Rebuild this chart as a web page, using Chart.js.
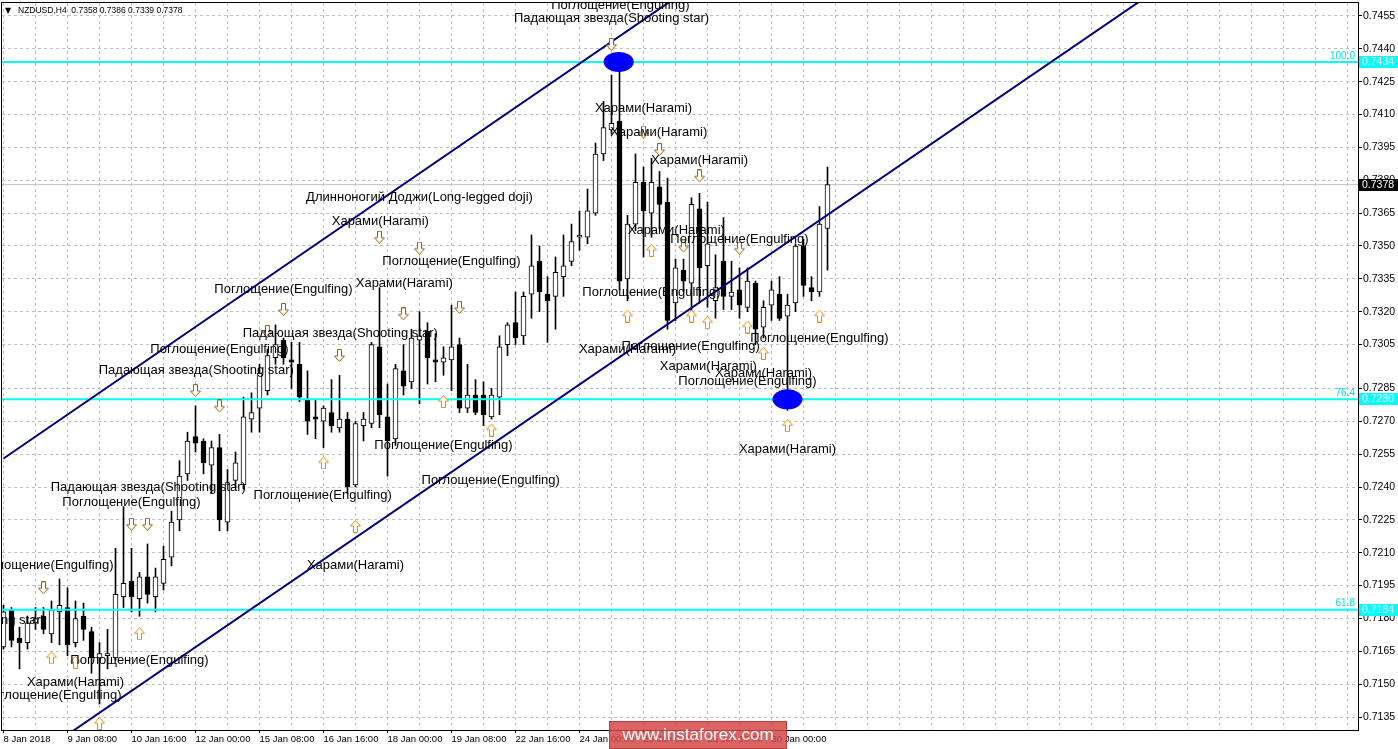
<!DOCTYPE html>
<html>
<head>
<meta charset="utf-8">
<title>NZDUSD H4</title>
<script src="https://cdn.jsdelivr.net/npm/chart.js@4.4.1/dist/chart.umd.min.js"></script>
<style>
    html, body { margin: 0; padding: 0; background: #ffffff; }
    #wrap { width: 1398px; height: 749px; }
</style>
</head>
<body>
<div id="wrap"><canvas id="nzdChart" width="1398" height="749"></canvas></div>
<script>
// NZDUSD H4 candles, bar 0 = 8 Jan 2018 00:00
const opens = [
    0.7167, 0.7184, 0.7171, 0.7169, 0.7178, 0.7181, 0.7173, 0.7183, 0.7185, 0.7169,
    0.7181, 0.7174, 0.7162, 0.7163, 0.7162, 0.7190, 0.7197, 0.7189, 0.7199, 0.7190,
    0.7196, 0.7208, 0.7225, 0.7246, 0.7263, 0.7261, 0.7250, 0.7258, 0.7224, 0.7243,
    0.7241, 0.7271, 0.7276, 0.7284, 0.7299, 0.7307, 0.7298, 0.7296, 0.7280, 0.7272,
    0.7270, 0.7274, 0.7267, 0.7271, 0.7241, 0.7268, 0.7269, 0.7304, 0.7272, 0.7262,
    0.7293, 0.7288, 0.7307, 0.7311, 0.7298, 0.7297, 0.7298, 0.7305, 0.7276, 0.7282,
    0.7282, 0.7272, 0.7281, 0.7305, 0.7315, 0.7309, 0.7328, 0.7343, 0.7328, 0.7327,
    0.7336, 0.7343, 0.7354, 0.7354, 0.7365, 0.7392, 0.7403, 0.7407, 0.7335, 0.7360,
    0.7379, 0.7365, 0.7377, 0.7370, 0.7324, 0.7339, 0.7333, 0.7367, 0.7341, 0.7325,
    0.7343, 0.7327, 0.7330, 0.7322, 0.7333, 0.7313, 0.7323, 0.7328, 0.7318, 0.7324,
    0.7350, 0.7331, 0.7329, 0.7358
];
const highs = [
    0.7186, 0.7185, 0.7176, 0.7181, 0.7185, 0.7185, 0.7188, 0.7198, 0.7194, 0.7188,
    0.7187, 0.7176, 0.7169, 0.7175, 0.7212, 0.7231, 0.7212, 0.7201, 0.7214, 0.7203,
    0.7213, 0.7229, 0.7252, 0.7265, 0.7277, 0.7262, 0.7261, 0.7264, 0.7248, 0.7256,
    0.7281, 0.7283, 0.7296, 0.7303, 0.7314, 0.7308, 0.7306, 0.7306, 0.7293, 0.7280,
    0.7277, 0.7289, 0.7291, 0.7274, 0.7270, 0.7274, 0.7306, 0.7331, 0.7287, 0.7296,
    0.7305, 0.7312, 0.7320, 0.7315, 0.7310, 0.7304, 0.7323, 0.7308, 0.7296, 0.7289,
    0.7288, 0.7285, 0.7309, 0.7315, 0.7329, 0.7329, 0.7355, 0.7350, 0.7336, 0.7345,
    0.7355, 0.7360, 0.7366, 0.7376, 0.7397, 0.7416, 0.7428, 0.7437, 0.7364, 0.7392,
    0.7386, 0.7390, 0.7384, 0.7381, 0.7344, 0.7344, 0.7372, 0.7374, 0.7370, 0.7346,
    0.7363, 0.7343, 0.7340, 0.7340, 0.7334, 0.7325, 0.7334, 0.7336, 0.7328, 0.7351,
    0.7353, 0.7336, 0.7368, 0.7386
];
const lows = [
    0.7166, 0.7167, 0.7157, 0.7166, 0.7175, 0.7173, 0.7169, 0.7168, 0.7163, 0.7167,
    0.7170, 0.7155, 0.7141, 0.7157, 0.7161, 0.7185, 0.7183, 0.7181, 0.7187, 0.7183,
    0.7193, 0.7204, 0.7220, 0.7243, 0.7256, 0.7246, 0.7237, 0.7220, 0.7220, 0.7240,
    0.7239, 0.7265, 0.7265, 0.7282, 0.7296, 0.7296, 0.7285, 0.7279, 0.7264, 0.7262,
    0.7258, 0.7265, 0.7265, 0.7237, 0.7240, 0.7261, 0.7267, 0.7267, 0.7245, 0.7259,
    0.7282, 0.7285, 0.7278, 0.7287, 0.7288, 0.7291, 0.7284, 0.7274, 0.7274, 0.7273,
    0.7268, 0.7271, 0.7273, 0.7300, 0.7305, 0.7305, 0.7317, 0.7320, 0.7306, 0.7312,
    0.7327, 0.7341, 0.7348, 0.7351, 0.7364, 0.7389, 0.7401, 0.7330, 0.7325, 0.7357,
    0.7345, 0.7354, 0.7358, 0.7312, 0.7316, 0.7329, 0.7320, 0.7324, 0.7322, 0.7317,
    0.7321, 0.7321, 0.7317, 0.7320, 0.7305, 0.7308, 0.7316, 0.7316, 0.7275, 0.7320,
    0.7327, 0.7325, 0.7327, 0.7339
];
const closes = [
    0.7183, 0.7170, 0.7169, 0.7178, 0.7180, 0.7175, 0.7184, 0.7186, 0.7168, 0.7180,
    0.7175, 0.7162, 0.7164, 0.7164, 0.7191, 0.7196, 0.7190, 0.7199, 0.7191, 0.7199,
    0.7207, 0.7224, 0.7245, 0.7261, 0.7260, 0.7251, 0.7258, 0.7225, 0.7242, 0.7251,
    0.7272, 0.7274, 0.7292, 0.7300, 0.7305, 0.7299, 0.7297, 0.7281, 0.7270, 0.7271,
    0.7276, 0.7268, 0.7271, 0.7240, 0.7269, 0.7271, 0.7305, 0.7273, 0.7261, 0.7294,
    0.7286, 0.7308, 0.7309, 0.7299, 0.7297, 0.7299, 0.7304, 0.7276, 0.7282, 0.7274,
    0.7273, 0.7282, 0.7304, 0.7314, 0.7308, 0.7327, 0.7341, 0.7329, 0.7325, 0.7338,
    0.7341, 0.7352, 0.7355, 0.7366, 0.7392, 0.7404, 0.7406, 0.7334, 0.7360, 0.7379,
    0.7366, 0.7379, 0.7369, 0.7316, 0.7340, 0.7334, 0.7369, 0.7340, 0.7351, 0.7331,
    0.7327, 0.7329, 0.7323, 0.7334, 0.7312, 0.7322, 0.7330, 0.7317, 0.7323, 0.7350,
    0.7332, 0.7329, 0.7360, 0.7378
];

// axis labels
const priceTicks = [0.7455, 0.7440, 0.7425, 0.7410, 0.7395, 0.7380, 0.7365, 0.7350, 0.7335,
    0.7320, 0.7305, 0.7285, 0.7270, 0.7255, 0.7240, 0.7225, 0.7210, 0.7195, 0.7180, 0.7165,
    0.7150, 0.7135];
const dateTickBars = [0, 8, 16, 24, 32, 40, 48, 56, 64, 72, 80, 88, 96];
const dateTickTexts = ['8 Jan 2018', '9 Jan 08:00', '10 Jan 16:00', '12 Jan 00:00', '15 Jan 08:00',
    '16 Jan 16:00', '18 Jan 00:00', '19 Jan 08:00', '22 Jan 16:00', '24 Jan 00:00',
    '25 Jan 08:00', '26 Jan 16:00', '30 Jan 00:00'];

// fibo levels, bid line
const fiboPrices = [0.7434, 0.7280, 0.7184];
const fiboNames = ['100.0', '76.4', '61.8'];
const bidPrice = 0.7378;

// equidistant channel (bar, price)
const channelBars = [0, 169];
const channelUpper = [0.7253, 0.7676];
const channelLower = [0.7107, 0.7529];

// blue markers
const markerBars = [76.9, 98];
const markerPrices = [0.7434, 0.7280];

// pattern arrows
const downArrowBars = [5, 16, 18, 24, 27, 33, 35, 42, 47, 50, 52, 57, 76, 80, 82, 85, 87, 92];
const downArrowPrices = [0.7194, 0.7223, 0.7223, 0.7284, 0.7277, 0.7311, 0.7321, 0.7300, 0.7354,
    0.7319, 0.7349, 0.7322, 0.7442, 0.7402, 0.7394, 0.7350, 0.7382, 0.7349];
const upArrowBars = [6, 9, 12, 17, 40, 44, 55, 61, 78, 81, 86, 88, 93, 95, 98, 102];
const upArrowPrices = [0.7162, 0.7160, 0.7132, 0.7173, 0.7251, 0.7222, 0.7279, 0.7266, 0.7318,
    0.7348, 0.7318, 0.7315, 0.7313, 0.7301, 0.7268, 0.7318];

// pattern names
const patternTexts = [
    'Поглощение(Engulfing)', 'Падающая звезда(Shooting star)', 'Харами(Harami)', 'Харами(Harami)',
    'Харами(Harami)', 'Длинноногий Доджи(Long-legged doji)', 'Харами(Harami)', 'Харами(Harami)',
    'Поглощение(Engulfing)', 'Поглощение(Engulfing)', 'Харами(Harami)', 'Поглощение(Engulfing)',
    'Поглощение(Engulfing)', 'Падающая звезда(Shooting star)', 'Поглощение(Engulfing)',
    'Поглощение(Engulfing)', 'Харами(Harami)', 'Поглощение(Engulfing)',
    'Падающая звезда(Shooting star)', 'Харами(Harami)', 'Харами(Harami)', 'Поглощение(Engulfing)',
    'Поглощение(Engulfing)', 'Харами(Harami)', 'Поглощение(Engulfing)',
    'Падающая звезда(Shooting star)', 'Поглощение(Engulfing)', 'Поглощение(Engulfing)',
    'Харами(Harami)', 'Поглощение(Engulfing)', 'Падающая звезда(Shooting star)',
    'Поглощение(Engulfing)', 'Харами(Harami)', 'Поглощение(Engulfing)'
];
const patternBars = [77.1, 76, 80, 81.9, 87, 52, 47.1, 84.1, 92, 56, 50.1, 35, 81, 42.1, 102, 27,
    78, 85.9, 24.1, 88.1, 95, 93, 55, 98, 60.9, 18.1, 16, 39.9, 44, 5.1, -7, 17, 9, 6.1];
const patternPrices = [0.7460, 0.7454, 0.7413, 0.7402, 0.7389, 0.7372, 0.7361, 0.7357, 0.7353,
    0.7343, 0.7333, 0.7330, 0.7329, 0.7310, 0.7308, 0.7303, 0.7303, 0.7304, 0.7293, 0.7295,
    0.7292, 0.7288, 0.7259, 0.7257, 0.7243, 0.7240, 0.7233, 0.7236, 0.7204, 0.7204, 0.7179,
    0.7161, 0.7151, 0.7145];

// visible range: 8 px per bar, 1356 px wide plot
const xMin = -0.1875;
const xMax = xMin + 169.5;
const yMin = 0.71291;
const yMax = 0.74609;

const FONT = '"Liberation Sans", Arial, sans-serif';

function arrowImage(up, stroke) {
    const c = document.createElement('canvas');
    c.width = 11;
    c.height = 13;
    const g = c.getContext('2d');
    const pts = up
        ? [[5.5, 0.5], [10.5, 6], [7.5, 6], [7.5, 12.5], [3.5, 12.5], [3.5, 6], [0.5, 6]]
        : [[5.5, 12.5], [10.5, 7], [7.5, 7], [7.5, 0.5], [3.5, 0.5], [3.5, 7], [0.5, 7]];
    g.beginPath();
    pts.forEach((p, k) => k ? g.lineTo(p[0], p[1]) : g.moveTo(p[0], p[1]));
    g.closePath();
    g.fillStyle = '#ffffff';
    g.fill();
    g.strokeStyle = stroke;
    g.lineWidth = 1;
    g.stroke();
    return c;
}

const wickData = opens.map((o, i) => ({ x: i, y: [lows[i], highs[i]] }));
const bodyData = opens.map((o, i) => ({ x: i, y: [o, closes[i]] }));
const bodyFill = opens.map((o, i) => closes[i] >= o ? '#ffffff' : '#000000');

const gridBars = [];
for (let b = 0; b <= 168; b += 4) gridBars.push(b);

function hLine(price) {
    return [{ x: xMin, y: price }, { x: xMax, y: price }];
}

// no extra room for overflowing tick labels, the plot is fixed
function noPadding(scale) {
    scale.paddingLeft = 0;
    scale.paddingRight = 0;
    scale.paddingTop = 0;
    scale.paddingBottom = 0;
}

// text, markers, level tags
const overlayPlugin = {
    id: 'overlay',
    afterDatasetsDraw(chart) {
        const { ctx, chartArea: a, scales: { x, y } } = chart;
        ctx.save();
        ctx.beginPath();
        ctx.rect(a.left, a.top, a.right - a.left, a.bottom - a.top);
        ctx.clip();

        ctx.fillStyle = '#0000ff';
        markerBars.forEach((b, k) => {
            ctx.beginPath();
            ctx.ellipse(x.getPixelForValue(b), y.getPixelForValue(markerPrices[k]), 15, 10, 0, 0, Math.PI * 2);
            ctx.fill();
        });

        ctx.font = '13px ' + FONT;
        ctx.fillStyle = '#000000';
        ctx.textAlign = 'center';
        ctx.textBaseline = 'middle';
        patternTexts.forEach((t, k) => {
            ctx.fillText(t, x.getPixelForValue(patternBars[k]), y.getPixelForValue(patternPrices[k]));
        });

        ctx.font = '10px ' + FONT;
        ctx.fillStyle = '#00e0e0';
        ctx.textAlign = 'right';
        ctx.textBaseline = 'bottom';
        fiboPrices.forEach((p, k) => {
            ctx.fillText(fiboNames[k], a.right - 3, y.getPixelForValue(p) - 1);
        });
        ctx.restore();
    },
    afterDraw(chart) {
        const { ctx, chartArea: a, scales: { y } } = chart;
        ctx.save();
        // frame
        ctx.strokeStyle = '#000000';
        ctx.lineWidth = 1;
        ctx.strokeRect(a.left - 0.5, a.top - 0.5, a.right - a.left + 1, a.bottom - a.top + 1);

        // price tags on the axis
        ctx.font = '10.5px ' + FONT;
        ctx.textAlign = 'left';
        ctx.textBaseline = 'middle';
        const tag = (price, bg) => {
            const py = Math.round(y.getPixelForValue(price));
            ctx.fillStyle = bg;
            ctx.fillRect(a.right + 1, py - 6, 40, 12);
            ctx.fillStyle = '#ffffff';
            ctx.fillText(price.toFixed(4), a.right + 4, py + 0.5);
        };
        fiboPrices.forEach(p => tag(p, '#00ffff'));
        tag(bidPrice, '#000000');

        // title
        ctx.fillStyle = '#000000';
        ctx.font = '8px DejaVu Sans, sans-serif';
        ctx.fillText('▼', a.left + 3, 11);
        ctx.font = '8.5px ' + FONT;
        ctx.fillText('NZDUSD,H4  ' + opens[opens.length - 1].toFixed(4) + ' ' +
            highs[highs.length - 1].toFixed(4) + ' ' + lows[lows.length - 1].toFixed(4) + ' ' +
            closes[closes.length - 1].toFixed(4), a.left + 16, 11);

        // watermark
        ctx.fillStyle = 'rgba(214, 72, 72, 0.85)';
        ctx.fillRect(609, 721, 178, 28);
        ctx.strokeStyle = 'rgba(160, 40, 40, 0.6)';
        ctx.strokeRect(609.5, 721.5, 177, 27);
        ctx.fillStyle = '#ffffff';
        ctx.font = '17px ' + FONT;
        ctx.textAlign = 'center';
        ctx.fillText('www.instaforex.com', 698, 735);
        ctx.restore();
    }
};

const lineBase = { type: 'line', pointRadius: 0, fill: false, tension: 0 };

new Chart(document.getElementById('nzdChart'), {
    type: 'bar',
    data: {
        datasets: [
            Object.assign({ data: hLine(bidPrice), borderColor: '#c0c0c0', borderWidth: 1, order: 6 }, lineBase),
            {
                data: wickData,
                backgroundColor: '#000000',
                borderWidth: 0,
                barThickness: 1,
                grouped: false,
                order: 5
            },
            {
                data: bodyData,
                backgroundColor: bodyFill,
                borderColor: '#000000',
                borderWidth: 1,
                borderSkipped: false,
                barThickness: 5,
                minBarLength: 1,
                grouped: false,
                order: 4
            },
            Object.assign({
                data: channelBars.map((b, k) => ({ x: b, y: channelUpper[k] })),
                borderColor: '#000080', borderWidth: 2, order: 3
            }, lineBase),
            Object.assign({
                data: channelBars.map((b, k) => ({ x: b, y: channelLower[k] })),
                borderColor: '#000080', borderWidth: 2, order: 3
            }, lineBase),
            ...fiboPrices.map(p => Object.assign({
                data: hLine(p), borderColor: '#00ffff', borderWidth: 2, order: 3
            }, lineBase)),
            {
                type: 'scatter',
                data: downArrowBars.map((b, k) => ({ x: b, y: downArrowPrices[k] })),
                pointStyle: arrowImage(false, '#a06000'),
                pointRadius: 5,
                order: 1
            },
            {
                type: 'scatter',
                data: upArrowBars.map((b, k) => ({ x: b, y: upArrowPrices[k] })),
                pointStyle: arrowImage(true, '#f08c00'),
                pointRadius: 5,
                order: 1
            }
        ]
    },
    options: {
        responsive: false,
        animation: false,
        events: [],
        layout: { autoPadding: false, padding: { left: 2, top: 3, right: 0, bottom: 0 } },
        plugins: {
            legend: { display: false },
            tooltip: { enabled: false }
        },
        scales: {
            x: {
                type: 'linear',
                min: xMin,
                max: xMax,
                offset: false,
                afterBuildTicks: (scale) => { scale.ticks = gridBars.map(v => ({ value: v })); },
                afterFit: (scale) => { scale.height = 19; noPadding(scale); },
                grid: {
                    color: '#c0c0c0',
                    offset: false,
                    tickLength: 3,
                    tickColor: (c) => c.tick && dateTickBars.includes(c.tick.value) ? '#000000' : 'rgba(0,0,0,0)',
                    tickBorderDash: []
                },
                border: { display: false, dash: [3, 3] },
                ticks: {
                    autoSkip: false,
                    maxRotation: 0,
                    minRotation: 0,
                    align: 'start',
                    padding: 1,
                    color: '#000000',
                    font: { family: FONT, size: 9.5 },
                    callback: (v) => {
                        const k = dateTickBars.indexOf(v);
                        return k >= 0 ? dateTickTexts[k] : '';
                    }
                }
            },
            y: {
                type: 'linear',
                position: 'right',
                min: yMin,
                max: yMax,
                afterBuildTicks: (scale) => { scale.ticks = priceTicks.map(v => ({ value: v })); },
                afterFit: (scale) => { scale.width = 40; noPadding(scale); },
                grid: {
                    color: '#c0c0c0',
                    tickLength: 4,
                    tickColor: '#000000',
                    tickBorderDash: []
                },
                border: { display: false, dash: [3, 3] },
                ticks: {
                    padding: 1,
                    color: '#000000',
                    font: { family: FONT, size: 10.5 },
                    callback: (v) => v.toFixed(4)
                }
            }
        }
    },
    plugins: [overlayPlugin]
});
</script>
</body>
</html>
